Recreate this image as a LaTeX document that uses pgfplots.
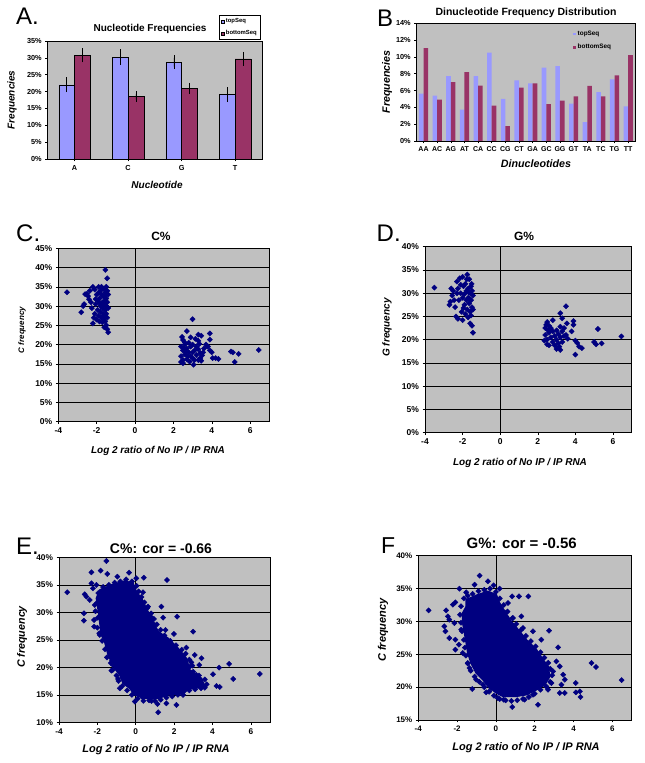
\documentclass[border=0pt]{standalone}
\usepackage{fontspec}
\setmainfont{Liberation Sans}
\usepackage{pgfplots}
\pgfplotsset{compat=1.18}
\definecolor{xlgray}{HTML}{C0C0C0}
\definecolor{navy}{HTML}{000080}
\definecolor{topc}{HTML}{9999FF}
\definecolor{botc}{HTML}{993366}
\newcommand{\fs}[1]{\fontsize{#1}{#1}\selectfont}
\pgfplotsset{
  xlbase/.style={
    scale only axis,
    axis background/.style={fill=xlgray},
    axis line style={black, line width=0.6pt},
    tick align=outside,
    major tick length=2.5pt,
    tick style={black, line width=0.5pt},
    /pgf/number format/assume math mode=true,
    yticklabel={\pgfmathprintnumber{\tick}\%},
    xtick pos=bottom, ytick pos=left,
  },
  scat/.style={only marks, mark=square*, mark size=1.85pt, mark options={rotate=45, fill=navy, draw=navy}, color=navy},
  sgrid/.style={ymajorgrids, grid style={black, line width=0.5pt}, xmin=-4, xmax=7, xtick={-4,-2,...,6}},
}
\begin{document}
\begin{tikzpicture}
\useasboundingbox (0,0) rectangle (645pt,763pt);
\fill[white] (0,0) rectangle (645pt,763pt);
% ---------------- A ----------------
\begin{axis}[xlbase, at={(47.7pt,604pt)}, anchor=south west, width=214.3pt, height=118pt,
  ymin=0, ymax=35, ytick={0,5,...,35}, xmin=-0.5, xmax=3.5, xtick={0,1,2,3}, xticklabels={A,C,G,T},
  tick label style={font=\bfseries\fs{7.3}},
  ybar, bar width=15.7pt,
  legend cell align=left,
  legend style={at={(0.799,1.22)}, anchor=north west, font=\bfseries\fs{5.9}, draw=black, fill=white, inner sep=1.5pt, row sep=2pt},
  legend image code/.code={\draw[#1, draw=black, line width=0.3pt] (0pt,-1.5pt) rectangle (3pt,1.5pt);},
  ]
\addplot[fill=topc, draw=black, line width=0.4pt, bar shift=-7.85pt,
  error bars/.cd, y dir=both, y explicit, error bar style={black, line width=0.4pt}, error mark options={black, line width=0.4pt, mark size=2.5pt}]
  coordinates {(0,22.0) +- (0,1.45) (1,30.2) +- (0,1.6) (2,28.7) +- (0,1.3) (3,19.1) +- (0,1.5)};
\addplot[fill=botc, draw=black, line width=0.4pt, bar shift=7.85pt,
  error bars/.cd, y dir=both, y explicit, error bar style={black, line width=0.4pt}, error mark options={black, line width=0.4pt, mark size=2.5pt}]
  coordinates {(0,30.75) +- (0,1.35) (1,18.5) +- (0,0.8) (2,21.0) +- (0,0.85) (3,29.7) +- (0,1.3)};
\legend{topSeq, bottomSeq}
\end{axis}
% ---------------- B ----------------
\begin{axis}[xlbase, at={(416.7pt,622pt)}, anchor=south west, width=218.3pt, height=117.7pt,
  ymin=0, ymax=14, ytick={0,2,...,14}, xmin=-0.5, xmax=15.5, xtick={0,...,15},
  xticklabels={AA,AC,AG,AT,CA,CC,CG,CT,GA,GC,GG,GT,TA,TC,TG,TT},
  yticklabel style={font=\bfseries\fs{7.3}}, xticklabel style={font=\bfseries\fs{7}},
  ybar, bar width=4.6pt,
  legend cell align=left,
  legend style={at={(0.711,0.96)}, anchor=north west, font=\bfseries\fs{6.4}, draw=none, fill=none, inner sep=1pt, row sep=3pt},
  legend image code/.code={\fill[#1] (0pt,-1.3pt) rectangle (2.6pt,1.3pt);},
  ]
\addplot[fill=topc, draw=none, bar shift=-2.3pt] coordinates {
(0,5.64) (1,5.4) (2,7.72) (3,3.72) (4,7.72) (5,10.52) (6,5.0) (7,7.2)
(8,6.84) (9,8.72) (10,8.92) (11,4.44) (12,2.24) (13,5.8) (14,7.32) (15,4.12)};
\addplot[fill=botc, draw=none, bar shift=2.3pt] coordinates {
(0,11.04) (1,4.92) (2,7.0) (3,8.2) (4,6.6) (5,4.2) (6,1.76) (7,6.36)
(8,6.84) (9,4.4) (10,4.8) (11,5.32) (12,6.56) (13,5.32) (14,7.8) (15,10.2)};
\legend{topSeq, bottomSeq}
\end{axis}
% ---------------- C ----------------
\begin{axis}[xlbase, sgrid, at={(58.3pt,341.3pt)}, anchor=south west, width=211pt, height=173.4pt,
  ymin=0, ymax=45, ytick={0,5,...,45}, tick label style={font=\bfseries\fs{8.5}}]
\addplot[black, line width=0.6pt] coordinates {(0,0) (0,45)};
\addplot[scat] coordinates {
(-3.55,33.6) (-2.80,28.4) (-2.70,30.0) (-2.65,30.5) (-2.60,33.1) (-2.50,33.2) (-2.45,32.6) (-2.40,31.8)
(-2.30,31.0) (-2.25,29.5) (-2.20,35.0) (-2.20,25.5) (-2.15,27.0) (-2.10,34.3) (-2.10,28.0) (-2.05,30.5)
(-2.00,33.0) (-2.00,26.5) (-1.95,29.0) (-1.95,31.5) (-1.90,35.0) (-1.90,27.5) (-1.85,32.0) (-1.85,26.0)
(-1.80,34.0) (-1.80,30.0) (-1.80,28.5) (-1.75,33.0) (-1.75,27.0) (-1.70,31.0) (-1.70,29.5) (-1.70,25.8)
(-1.65,34.5) (-1.65,32.5) (-1.65,28.0) (-1.60,30.5) (-1.60,27.5) (-1.60,24.5) (-1.55,39.4) (-1.55,33.5)
(-1.55,31.5) (-1.55,29.0) (-1.55,26.0) (-1.50,35.0) (-1.50,32.0) (-1.50,30.0) (-1.50,28.0) (-1.50,25.0)
(-1.45,37.2) (-1.45,34.0) (-1.45,31.0) (-1.45,27.0) (-1.45,24.0) (-1.40,33.0) (-1.40,29.5) (-1.40,23.2)
(-1.75,35.0) (-2.05,31.8) (-1.90,33.5) (-2.35,34.0) (-1.85,30.8) (-1.68,30.2) (-1.58,32.8) (-1.48,33.8) (-1.62,26.8)
(3.0,26.6) (2.7,23.5) (2.45,22.0) (3.3,22.6) (3.45,22.3) (3.9,22.9) (3.9,21.3) (2.9,21.9) (3.3,21.0)
(2.5,21.2) (2.6,20.5) (2.4,19.5) (2.5,18.5) (2.6,17.5) (2.4,17.0) (2.5,16.0) (2.4,15.5) (2.5,15.2)
(2.7,19.0) (2.8,18.0) (2.9,17.0) (3.0,16.5) (3.05,14.8) (3.1,18.5) (3.2,17.3) (3.3,16.0) (3.4,17.8)
(3.5,17.2) (3.6,19.0) (3.7,20.0) (3.8,19.5) (3.9,18.5) (4.0,18.0) (4.05,16.5) (4.2,16.5) (4.35,16.3)
(5.0,18.2) (5.1,18.0) (5.2,15.5) (5.4,17.6) (6.45,18.6)
(2.6,20.0) (2.7,16.2) (2.8,20.5) (2.9,19.5) (3.0,20.0) (3.1,16.0) (3.2,19.5) (3.3,18.8) (3.35,20.2)
(3.4,16.5) (3.0,18.0) (2.75,17.0) (2.55,19.0) (2.65,18.2) (3.15,21.5) (3.55,18.0) (3.45,15.8) (2.85,15.6)};
\end{axis}
% ---------------- D ----------------
\begin{axis}[xlbase, sgrid, at={(425pt,330.3pt)}, anchor=south west, width=206.7pt, height=186pt,
  ymin=0, ymax=40, ytick={0,5,...,40}, tick label style={font=\bfseries\fs{8.5}}]
\addplot[black, line width=0.6pt] coordinates {(0,0) (0,40)};
\addplot[scat] coordinates {
(-3.50,31.2) (-2.70,27.5) (-2.65,28.2) (-2.60,31.0) (-2.55,29.5) (-2.50,30.5) (-2.40,27.0) (-2.35,25.0)
(-2.30,32.5) (-2.25,24.5) (-2.20,28.5) (-2.15,33.2) (-2.10,30.0) (-2.05,26.0) (-2.00,33.5) (-2.00,29.0)
(-2.00,24.2) (-1.95,31.5) (-1.90,27.5) (-1.85,32.0) (-1.85,25.5) (-1.80,30.5) (-1.80,28.5) (-1.75,34.0)
(-1.75,26.5) (-1.70,31.0) (-1.70,29.0) (-1.70,24.8) (-1.65,33.0) (-1.65,27.8) (-1.60,30.0) (-1.60,26.0)
(-1.60,23.5) (-1.55,31.5) (-1.55,28.5) (-1.55,25.2) (-1.50,30.5) (-1.50,27.0) (-1.50,23.0) (-1.45,29.5)
(-1.45,21.5) (-1.45,26.5) (-2.30,30.0) (-2.10,31.8) (-1.90,29.8) (-2.45,28.5) (-1.95,26.8) (-1.78,33.0)
(-2.25,31.0) (-1.68,30.2) (-1.62,28.8) (-1.52,32.0)
(3.5,27.2) (3.2,25.7) (3.3,24.6) (2.5,23.8) (2.8,24.2) (3.9,24.0) (3.9,23.2) (2.4,22.5) (2.6,23.0)
(4.0,19.8) (4.1,19.3) (4.2,18.5) (4.35,18.2) (3.0,18.0) (3.2,17.8) (4.0,16.8) (5.0,19.5) (5.1,19.0)
(5.4,19.2) (5.2,22.3) (6.45,20.7) (3.8,21.8)
(2.4,21.0) (2.5,20.0) (2.5,19.0) (2.6,21.5) (2.7,22.5) (2.7,20.5) (2.8,19.5) (2.8,21.8) (2.9,20.8)
(2.9,18.8) (3.0,22.0) (3.0,20.0) (3.1,21.2) (3.1,19.2) (3.2,22.8) (3.2,20.5) (3.3,21.8) (3.3,19.5)
(3.4,20.8) (3.4,22.5) (3.5,21.0) (3.6,20.2) (2.6,18.8) (3.55,23.5) (2.45,23.2) (3.15,18.5) (2.35,19.8) (2.55,22.0)};
\end{axis}
% ---------------- E ----------------
\begin{axis}[xlbase, sgrid, at={(59pt,40.7pt)}, anchor=south west, width=211pt, height=165pt,
  ymin=10, ymax=40, ytick={10,15,...,40}, tick label style={font=\bfseries\fs{8.3}}]
\addplot[black, line width=0.6pt] coordinates {(0,10) (0,40)};
\addplot[fill=navy, draw=navy, line width=1.5pt, line join=round] coordinates {
(-1.88,34.06) (-1.27,34.97) (-0.57,35.7) (-0.14,35.27) (0.03,33.76) (0.30,32.55) (0.64,30.12) (0.90,28.3)
(1.17,26.48) (1.69,25.27) (2.21,23.45) (2.64,21.64) (2.82,19.52) (3.43,18.0) (3.60,16.48) (2.90,16.18)
(2.38,15.27) (1.69,14.97) (1.17,14.36) (0.47,14.36) (-0.05,14.97) (-0.31,16.18) (-0.66,17.09) (-0.83,18.6)
(-1.10,19.82) (-1.44,22.24) (-1.62,24.67) (-1.79,25.88) (-1.88,28.3) (-1.97,30.73) (-2.05,32.55) (-1.88,34.06)};
\addplot[scat] coordinates {
(-1.53,39.33) (-2.31,37.27) (-1.83,37.58) (-1.48,36.97) (-0.35,37.21) (0.03,36.18) (0.42,36.3) (1.63,35.88)
(-3.57,33.64) (-2.66,33.27) (-2.57,32.85) (-2.31,35.27) (-2.23,34.36) (-2.70,29.82) (-2.70,28.48) (-2.17,28.6)
(-2.17,27.39) (-1.88,25.88) (-2.14,31.33) (-2.40,32.24) (1.34,31.03) (1.43,29.03) (2.16,29.21) (2.99,26.48)
(1.99,26.06) (1.55,26.79) (2.64,23.58) (3.08,22.24) (3.43,21.64) (3.31,20.42) (4.03,18.73) (4.35,19.94)
(4.87,20.61) (5.08,17.88) (6.47,18.79) (4.21,16.6) (4.38,16.42) (3.60,16.3) (-1.27,19.39) (-1.23,21.21)
(-0.83,16.18) (0.82,13.88) (1.13,13.33) (1.17,11.82) (2.12,13.15) (1.60,13.45) (0.38,14.48) (2.47,14.97)
(0.64,31.03) (0.78,29.21) (0.38,33.64) (-0.96,36.48) (-0.49,35.15) (-2.05,34.97) (0.99,27.7) (-0.66,22.24)
(-1.44,23.76) (-1.41,24.67) (-1.18,20.42) (-0.92,17.88) (-0.57,17.39) (-0.05,13.76) (1.51,16.48) (1.95,17.39)
(2.42,16.18) (2.73,17.39) (3.08,17.09) (3.17,18.6) (2.82,20.12) (2.47,20.42) (2.30,21.64) (2.90,20.91)
(-1.95,33.5) (-2.0,31.8) (-2.1,30.2) (-1.98,29.0) (-2.0,27.2) (-1.9,26.2) (-1.75,24.8) (-1.6,23.3)
(-1.5,21.8) (-1.3,20.8) (-1.2,19.5) (-1.0,18.5) (-0.9,17.5) (-0.7,16.6) (-0.45,15.8) (-0.2,15.0)
(0.1,14.3) (0.4,13.9) (0.7,14.0) (1.0,13.9) (1.3,14.1) (1.6,14.5) (1.9,14.7) (2.2,15.0) (2.5,15.6)
(2.8,15.8) (3.1,16.0) (3.4,16.2) (3.7,16.9) (3.6,17.8) (3.3,18.5) (3.0,19.2) (2.95,20.3) (2.8,21.4)
(2.6,22.5) (2.4,23.2) (2.1,24.0) (1.8,24.8) (1.5,25.8) (1.3,26.8) (1.1,27.8) (0.95,28.8) (0.8,29.8)
(0.6,30.8) (0.45,31.8) (0.3,32.8) (0.15,33.8) (0.05,34.8) (-0.2,35.6) (-0.5,36.0) (-0.8,35.6)
(-1.1,35.4) (-1.4,35.0) (-1.7,34.6)};
\end{axis}
% ---------------- F ----------------
\begin{axis}[xlbase, sgrid, at={(418.3pt,43pt)}, anchor=south west, width=213.4pt, height=164.3pt,
  ymin=15, ymax=40, ytick={15,20,...,40}, tick label style={font=\bfseries\fs{8}}]
\addplot[black, line width=0.6pt] coordinates {(0,15) (0,40)};
\addplot[fill=navy, draw=navy, line width=1.5pt, line join=round] coordinates {
(-1.53,33.31) (-0.93,34.07) (-0.41,34.57) (0.02,34.07) (0.19,32.8) (0.45,31.53) (0.79,30.01) (1.22,28.49)
(1.57,27.22) (2.09,25.7) (2.43,24.18) (2.69,23.16) (2.78,21.64) (2.52,20.38) (2.09,19.61) (1.57,18.85)
(1.05,18.6) (0.36,18.6) (0.02,19.11) (-0.41,20.12) (-0.67,21.14) (-1.02,22.15) (-1.28,23.67) (-1.45,25.19)
(-1.53,26.71) (-1.62,28.24) (-1.71,29.76) (-1.71,31.28) (-1.53,32.29) (-1.53,33.31)};
\addplot[scat] coordinates {
(-0.84,36.96) (-1.10,35.59) (-0.41,36.1) (-0.12,35.49) (0.19,34.98) (-1.88,34.98) (-1.53,34.42) (-2.09,32.9)
(-2.22,32.55) (0.84,33.81) (1.19,33.81) (1.67,33.81) (-3.47,31.68) (-2.57,31.68) (-2.48,30.77) (-2.66,29.25)
(-2.60,28.49) (-2.40,30.26) (-2.14,29.76) (-2.40,27.47) (-2.09,27.22) (-2.09,25.7) (-1.91,26.46) (-1.45,23.67)
(-1.22,19.72) (-0.50,19.21) (0.88,30.52) (1.31,30.77) (1.40,29.0) (1.91,28.49) (2.74,28.59) (2.34,27.22)
(3.21,26.05) (3.12,23.92) (3.29,23.16) (3.47,21.9) (3.55,21.14) (3.38,20.38) (3.55,19.11) (3.29,19.11)
(4.12,20.63) (4.33,19.36) (4.12,19.21) (4.36,18.5) (4.93,23.67) (5.16,23.06) (6.48,21.08) (2.17,17.33)
(0.84,16.98) (0.40,18.09) (0.10,18.35) (1.48,18.09) (1.91,18.85) (2.69,19.61) (2.86,20.63) (2.95,22.4)
(2.43,22.91) (2.17,24.43) (1.74,25.7) (0.62,32.8) (0.45,31.38) (-1.36,22.91) (-1.02,21.14) (-0.67,20.38)
(-0.24,19.87) (-1.79,28.74) (-1.71,25.19) (-1.62,31.28)
(-1.65,33.5) (-1.8,32.3) (-1.85,31.0) (-1.8,29.8) (-1.75,28.5) (-1.65,27.2) (-1.6,26.0) (-1.55,24.8)
(-1.45,23.6) (-1.3,22.5) (-1.1,21.6) (-0.85,20.8) (-0.6,20.0) (-0.35,19.3) (-0.1,18.7) (0.2,18.2)
(0.5,18.0) (0.8,17.9) (1.1,18.0) (1.4,18.2) (1.7,18.5) (2.0,19.0) (2.3,19.6) (2.6,20.1) (2.8,20.8)
(2.9,21.8) (2.8,22.8) (2.7,23.7) (2.5,24.5) (2.3,25.3) (2.05,26.2) (1.8,27.0) (1.55,27.8) (1.3,28.7)
(1.05,29.6) (0.85,30.5) (0.6,31.5) (0.4,32.5) (0.2,33.5) (0.0,34.5) (-0.3,35.0) (-0.6,34.8)
(-0.9,34.6) (-1.2,34.2) (-1.45,33.9)};
\end{axis}
% ---------------- texts ----------------
\node[anchor=base west, font=\fs{24}, inner sep=0pt] at (16pt,738pt) {A.};
\node[anchor=base, font=\bfseries\fs{10}, inner sep=0pt] at (150pt,731.3pt) {Nucleotide Frequencies};
\node[rotate=90, font=\bfseries\itshape\fs{10}, inner sep=0pt] at (12pt,663pt) {Frequencies};
\node[font=\bfseries\itshape\fs{10}, inner sep=0pt] at (157pt,578.3pt) {Nucleotide};

\node[anchor=base west, font=\fs{24}, inner sep=0pt] at (377pt,736.3pt) {B};
\node[anchor=base, font=\bfseries\fs{10.5}, inner sep=0pt] at (526pt,747pt) {Dinucleotide Frequency Distribution};
\node[rotate=90, font=\bfseries\itshape\fs{10.7}, inner sep=0pt] at (387pt,681pt) {Frequencies};
\node[font=\bfseries\itshape\fs{10.7}, inner sep=0pt] at (536pt,599pt) {Dinucleotides};

\node[anchor=base west, font=\fs{24}, inner sep=0pt] at (16pt,521.3pt) {C.};
\node[anchor=base, font=\bfseries\fs{12}, inner sep=0pt] at (161pt,522.3pt) {C\%};
\node[rotate=90, font=\bfseries\itshape\fs{8}, inner sep=0pt] at (22pt,433pt) {C frequency};
\node[font=\bfseries\itshape\fs{10}, inner sep=0pt] at (158pt,312.3pt) {Log 2 ratio of No IP / IP RNA};

\node[anchor=base west, font=\fs{24}, inner sep=0pt] at (376.5pt,521.3pt) {D.};
\node[anchor=base, font=\bfseries\fs{12}, inner sep=0pt] at (524pt,522.3pt) {G\%};
\node[rotate=90, font=\bfseries\itshape\fs{10}, inner sep=0pt] at (387pt,435.5pt) {G frequency};
\node[font=\bfseries\itshape\fs{10}, inner sep=0pt] at (520pt,300pt) {Log 2 ratio of No IP / IP RNA};

\node[anchor=base west, font=\fs{24}, inner sep=0pt] at (16pt,208pt) {E.};
\node[anchor=base, font=\bfseries\fs{14}, inner sep=0pt] at (161pt,209.7pt) {C\%: cor = -0.66};
\node[rotate=90, font=\bfseries\itshape\fs{10.7}, inner sep=0pt] at (22pt,126pt) {C frequency};
\node[font=\bfseries\itshape\fs{11}, inner sep=0pt] at (156pt,13.7pt) {Log 2 ratio of No IP / IP RNA};

\node[anchor=base west, font=\fs{23}, inner sep=0pt] at (381pt,209.7pt) {F};
\node[anchor=base, font=\bfseries\fs{15}, inner sep=0pt] at (521.7pt,214.7pt) {G\%: cor = -0.56};
\node[rotate=90, font=\bfseries\itshape\fs{11}, inner sep=0pt] at (383pt,133pt) {C frequency};
\node[font=\bfseries\itshape\fs{11}, inner sep=0pt] at (526pt,15pt) {Log 2 ratio of No IP / IP RNA};
\end{tikzpicture}
\end{document}
